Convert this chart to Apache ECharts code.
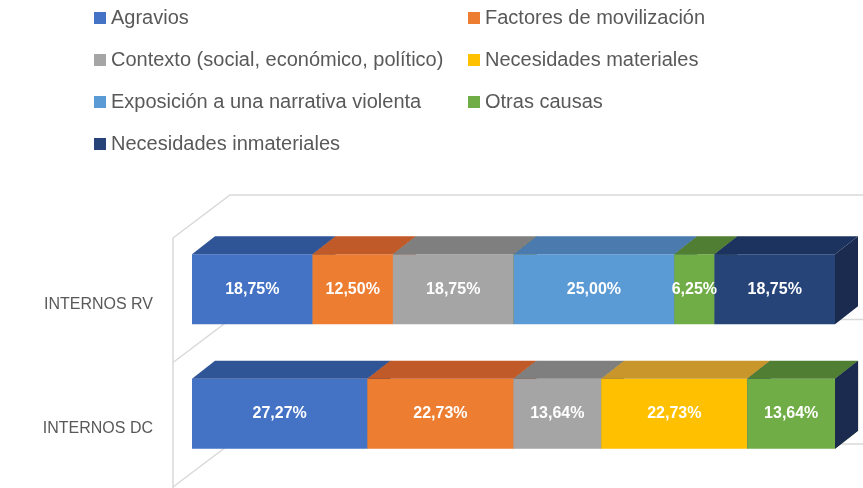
<!DOCTYPE html>
<html>
<head>
<meta charset="utf-8">
<script src="https://cdn.jsdelivr.net/npm/echarts@6/dist/echarts.min.js"></script>
<style>
  html, body { margin: 0; padding: 0; background: #fff; }
  #chart { width: 863px; height: 488px; }
</style>
</head>
<body>
<div id="chart"></div>
<script>
  // categories (top to bottom)
  var categories = ['INTERNOS RV', 'INTERNOS DC'];

  var seriesNames = [
    'Agravios',
    'Factores de movilización',
    'Contexto (social, económico, político)',
    'Necesidades materiales',
    'Exposición a una narrativa violenta',
    'Otras causas',
    'Necesidades inmateriales'
  ];

  // values in % per category [RV, DC]
  var agravios     = [18.75, 27.27];
  var factores     = [12.50, 22.73];
  var contexto     = [18.75, 13.64];
  var materiales   = [0,     22.73];
  var exposicion   = [25.00, 0];
  var otras        = [6.25,  13.64];
  var inmateriales = [18.75, 0];

  var seriesValues = [agravios, factores, contexto, materiales, exposicion, otras, inmateriales];

  var frontColors = ['#4472C4', '#ED7D31', '#A5A5A5', '#FFC000', '#5B9BD5', '#70AD47', '#264478'];
  var topColors   = ['#2F5597', '#C05A28', '#7F7F7F', '#C8962A', '#4A7AAE', '#507E32', '#1C3360'];
  var sideColors  = ['#22407A', '#9C4516', '#666666', '#A67C00', '#34618C', '#3F6827', '#1B2B4F'];

  var leftLegend  = [seriesNames[0], seriesNames[2], seriesNames[4], seriesNames[6]];
  var rightLegend = [seriesNames[1], seriesNames[3], seriesNames[5]];

  // 3d look (px)
  var BAR_H = 70, BAR_SHIFT = -11, DEPTH_X = 23, DEPTH_Y = 18;
  var WALL_X = 19, WALL_DX = 57, WALL_DY = 43;

  function fmt(v) {
    return v.toFixed(2).replace('.', ',') + '%';
  }

  function renderBar(idx) {
    return function (params, api) {
      var start = api.value(0), end = api.value(1), cat = api.value(2), val = api.value(3);
      var p0 = api.coord([start, cat]);
      var p1 = api.coord([end, cat]);
      var cy = p0[1] + BAR_SHIFT;
      var top = cy - BAR_H / 2, bottom = cy + BAR_H / 2;
      var x0 = p0[0], x1 = p1[0];
      var children = [
        { type: 'rect', shape: { x: x0, y: top, width: x1 - x0, height: BAR_H }, style: { fill: frontColors[idx] } },
        { type: 'polygon', shape: { points: [[x0, top], [x1, top], [x1 + DEPTH_X, top - DEPTH_Y], [x0 + DEPTH_X, top - DEPTH_Y]] }, style: { fill: topColors[idx] } },
        { type: 'polygon', shape: { points: [[x1, top], [x1 + DEPTH_X, top - DEPTH_Y], [x1 + DEPTH_X, bottom - DEPTH_Y], [x1, bottom]] }, style: { fill: sideColors[idx] } }
      ];
      if (val > 0) {
        children.push({
          type: 'text', z2: 100,
          style: {
            x: (x0 + x1) / 2, y: cy, text: fmt(val), fill: '#fff',
            fontSize: 16, fontWeight: 'bold', fontFamily: 'Liberation Sans',
            align: 'center', verticalAlign: 'middle'
          }
        });
      }
      return { type: 'group', children: children };
    };
  }

  function renderWall(params, api) {
    var cs = params.coordSys;
    var band = cs.height / categories.length;
    var fx = cs.x - WALL_X;
    var lineStyle = { stroke: '#D9D9D9', lineWidth: 1.5, fill: null };
    var children = [
      { type: 'line', shape: { x1: fx, y1: cs.y, x2: fx, y2: cs.y + cs.height + 5 }, style: lineStyle }
    ];
    for (var k = 0; k <= categories.length; k++) {
      var y = cs.y + k * band;
      children.push({
        type: 'polyline',
        shape: { points: [[fx, y], [fx + WALL_DX, y - WALL_DY], [cs.x + cs.width + 60, y - WALL_DY]] },
        style: lineStyle
      });
    }
    return { type: 'group', children: children };
  }

  var series = [{
    type: 'custom',
    silent: true,
    z: 1,
    renderItem: renderWall,
    encode: { x: 0, y: 1 },
    data: [[0, 0]]
  }];

  var stack = categories.map(function () { return 0; });
  seriesValues.forEach(function (vals, idx) {
    var data = vals.map(function (v, c) {
      var s = stack[c];
      stack[c] += v;
      return [s, s + v, c, v];
    });
    series.push({
      name: seriesNames[idx],
      type: 'custom',
      z: 2,
      itemStyle: { color: frontColors[idx] },
      renderItem: renderBar(idx),
      encode: { x: [0, 1], y: 2 },
      data: data
    });
  });

  var legendText = { fontSize: 20, color: '#595959', fontFamily: 'Liberation Sans', lineHeight: 20 };

  var chart = echarts.init(document.getElementById('chart'));
  chart.setOption({
    backgroundColor: '#fff',
    animation: false,
    legend: [
      { data: leftLegend, orient: 'vertical', left: 89, top: 3, icon: 'rect', itemWidth: 12, itemHeight: 12, itemGap: 22, textStyle: legendText },
      { data: rightLegend, orient: 'vertical', left: 463, top: 3, icon: 'rect', itemWidth: 12, itemHeight: 12, itemGap: 22, textStyle: legendText }
    ],
    grid: { left: 192, right: 28, top: 238, bottom: 1 },
    xAxis: { type: 'value', min: 0, max: 100, show: false },
    yAxis: {
      type: 'category',
      inverse: true,
      data: categories,
      axisLine: { show: false },
      axisTick: { show: false },
      splitLine: { show: false },
      axisLabel: { margin: 39, fontSize: 16, color: '#595959', fontFamily: 'Liberation Sans', verticalAlign: 'top', lineHeight: 8 }
    },
    series: series
  });
</script>
</body>
</html>
